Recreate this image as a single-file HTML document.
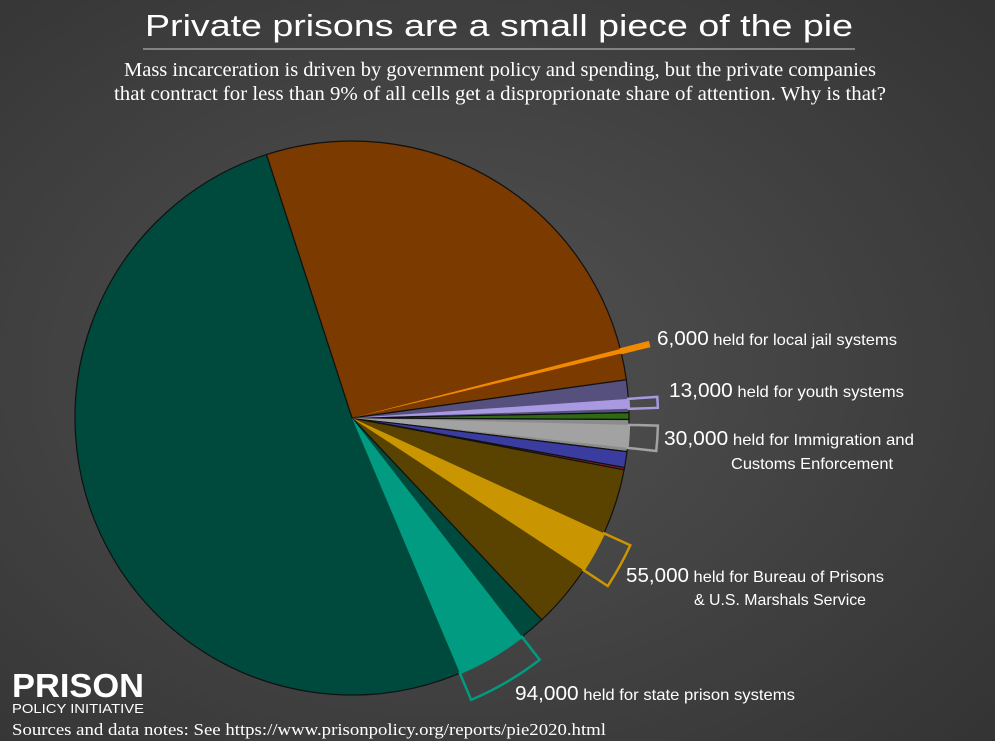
<!DOCTYPE html>
<html><head><meta charset="utf-8">
<style>
html,body{margin:0;padding:0;}
body{width:995px;height:741px;overflow:hidden;background:#454545;}
svg{display:block;}
</style></head>
<body>
<svg id="chart" width="995" height="741" viewBox="0 0 995 741" xmlns="http://www.w3.org/2000/svg">
<defs>
<radialGradient id="bg" cx="0.45" cy="0.5" r="0.75">
<stop offset="0" stop-color="#525252"/>
<stop offset="1" stop-color="#333333"/>
</radialGradient>
</defs>
<rect x="0" y="0" width="995" height="741" fill="url(#bg)"/>
<text x="145" y="36" textLength="708" lengthAdjust="spacingAndGlyphs" font-family="Liberation Sans, sans-serif" font-size="31" fill="#ffffff">Private prisons are a small piece of the pie</text>
<line x1="143" y1="49" x2="855" y2="49" stroke="#9a9a9a" stroke-width="1.5"/>
<text x="500" y="76" text-anchor="middle" textLength="752" lengthAdjust="spacingAndGlyphs" font-family="Liberation Serif, serif" font-size="19.5" fill="#ffffff">Mass incarceration is driven by government policy and spending, but the private companies</text>
<text x="500" y="100" text-anchor="middle" textLength="772" lengthAdjust="spacingAndGlyphs" font-family="Liberation Serif, serif" font-size="19.5" fill="#ffffff">that contract for less than 9% of all cells get a disproprionate share of attention. Why is that?</text>
<g id="slices"></g>
<g id="private"></g>
<g id="labels" font-family="Liberation Sans, sans-serif" fill="#ffffff">
<text x="657" y="345" font-size="16" textLength="240" lengthAdjust="spacingAndGlyphs"><tspan font-size="20">6,000</tspan> held for local jail systems</text>
<text x="669" y="397" font-size="16" textLength="235" lengthAdjust="spacingAndGlyphs"><tspan font-size="20">13,000</tspan> held for youth systems</text>
<text x="664" y="445" font-size="16" textLength="250" lengthAdjust="spacingAndGlyphs"><tspan font-size="20">30,000</tspan> held for Immigration and</text>
<text x="731" y="469" font-size="16" textLength="162" lengthAdjust="spacingAndGlyphs">Customs Enforcement</text>
<text x="626" y="582" font-size="16" textLength="258" lengthAdjust="spacingAndGlyphs"><tspan font-size="20">55,000</tspan> held for Bureau of Prisons</text>
<text x="694" y="605" font-size="16" textLength="172" lengthAdjust="spacingAndGlyphs">&amp; U.S. Marshals Service</text>
<text x="515" y="700" font-size="16" textLength="280" lengthAdjust="spacingAndGlyphs"><tspan font-size="20">94,000</tspan> held for state prison systems</text>
</g>
<text x="12" y="697" font-family="Liberation Sans, sans-serif" font-weight="bold" font-size="33" fill="#ffffff" textLength="132" lengthAdjust="spacingAndGlyphs">PRISON</text>
<text x="12" y="713" font-family="Liberation Sans, sans-serif" font-size="13" fill="#ffffff" textLength="132" lengthAdjust="spacingAndGlyphs">POLICY INITIATIVE</text>
<text x="12" y="735" font-family="Liberation Serif, serif" font-size="17" fill="#ffffff" textLength="594" lengthAdjust="spacingAndGlyphs">Sources and data notes: See https://www.prisonpolicy.org/reports/pie2020.html</text>
</svg>
<script>
// Main slices (thousands of people), clockwise from start angle
const categories = ["local-jails","youth","territorial","immigration","civil-commitment","other","federal","state"];
const values = [631, 43, 9, 42, 21, 3, 227, 1294];
const sliceColors = ["#7a3a00","#55507e","#2e6a12","#8c8c8c","#3b3ca0","#8a1a22","#5a4300","#004a3d"];
// Private portions (thousands) and their offset within parent slice (thousands)
const privParents = [0, 1, 3, 6, 7];
const privValues = [6, 13, 30, 55, 94];
const privOffsets = [590, 25, 7, 87, 34];
const privFill = ["#f28a00","#a899e0","#a2a2a2","#c99500","#009b80"];

const NS = "http://www.w3.org/2000/svg";
const cx = 352, cy = 418, R = 277, R2 = 306, startDeg = -108;
const total = values.reduce((a,b)=>a+b,0);
function ang(v){ return (startDeg + v/total*360) * Math.PI/180; }
function pt(a,r){ return [cx + r*Math.cos(a), cy + r*Math.sin(a)]; }
function wedge(a0,a1,r){
  const p0 = pt(a0,r), p1 = pt(a1,r);
  const large = (a1-a0) > Math.PI ? 1 : 0;
  return `M${cx},${cy} L${p0[0]},${p0[1]} A${r},${r} 0 ${large} 1 ${p1[0]},${p1[1]} Z`;
}
const cum = [];
let acc = 0;
for (let i=0;i<values.length;i++){ cum.push(acc); acc += values[i]; }
const gS = document.getElementById("slices");
for (let i=0;i<values.length;i++){
  const p = document.createElementNS(NS,"path");
  p.setAttribute("d", wedge(ang(cum[i]), ang(cum[i]+values[i]), R));
  p.setAttribute("fill", sliceColors[i]);
  p.setAttribute("stroke", "#111");
  p.setAttribute("stroke-width", "1.2");
  
  
  gS.appendChild(p);
}
const gP = document.getElementById("private");
for (let j=0;j<privValues.length;j++){
  const s = cum[privParents[j]] + privOffsets[j];
  const a0 = ang(s), a1 = ang(s + privValues[j]);
  const inner = document.createElementNS(NS,"path");
  inner.setAttribute("d", wedge(a0,a1,R));
  inner.setAttribute("fill", privFill[j]);
  
  
  gP.appendChild(inner);
  const q0 = pt(a0,R), q1 = pt(a1,R), q2 = pt(a1,R2), q3 = pt(a0,R2);
  const box = document.createElementNS(NS,"path");
  box.setAttribute("d", `M${q0[0]},${q0[1]} A${R},${R} 0 0 1 ${q1[0]},${q1[1]} L${q2[0]},${q2[1]} A${R2},${R2} 0 0 0 ${q3[0]},${q3[1]} Z`);
  box.setAttribute("fill", j===0 ? privFill[j] : "none");
  box.setAttribute("stroke", privFill[j]);
  box.setAttribute("stroke-width", j===0 ? "1.5" : "2.5");
  
  
  gP.appendChild(box);
}
</script>
</body></html>
